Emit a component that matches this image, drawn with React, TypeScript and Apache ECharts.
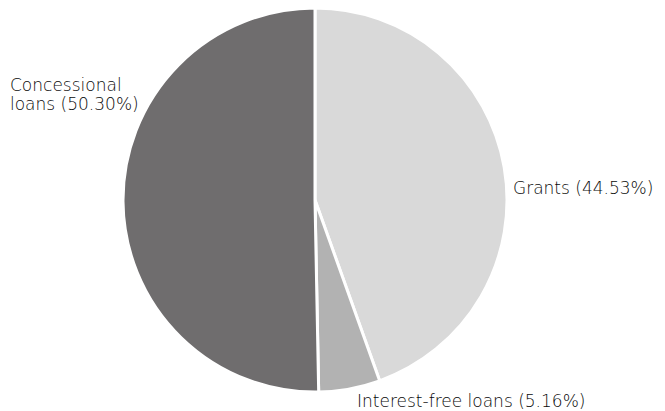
import React, { useEffect, useRef } from "react";
import * as echarts from "echarts";

const categories = ["Grants", "Interest-free loans", "Concessional loans"];
const shares = [44.53, 5.16, 50.3];
const labelTexts = ["Grants (44.53%)", "Interest-free loans (5.16%)", "Concessional\nloans (50.30%)"];
const colors = ["#d9d9d9", "#b2b2b2", "#6f6d6e"];

export default function App() {
  const ref = useRef<HTMLDivElement>(null);
  useEffect(() => {
    if (!ref.current) return;
    const chart = echarts.init(ref.current, undefined, { renderer: "svg" });
    const labelPos = [
      { x: 513, y: 188, align: "left" },
      { x: 357, y: 401, align: "left" },
      { x: 10, y: 94, align: "left" },
    ];
    chart.setOption({
      animation: false,
      backgroundColor: "#ffffff",
      series: [
        {
          type: "pie",
          center: [315, 200],
          radius: 192,
          startAngle: 90,
          clockwise: true,
          avoidLabelOverlap: false,
          itemStyle: { borderColor: "#ffffff", borderWidth: 3 },
          label: {
            show: true,
            position: "outside",
            color: "#0a0a0a",
            fontFamily: "DejaVu Sans",
            fontWeight: 200,
            fontSize: 17,
            lineHeight: 19,
            formatter: (p: any) => labelTexts[p.dataIndex],
          },
          labelLine: { show: false },
          labelLayout: (p: any) => ({
            x: labelPos[p.dataIndex].x,
            y: labelPos[p.dataIndex].y,
            align: labelPos[p.dataIndex].align,
            verticalAlign: "middle",
          }),
          emphasis: { disabled: true },
          data: categories.map((c, i) => ({
            name: c,
            value: shares[i],
            itemStyle: { color: colors[i] },
          })),
        },
      ],
    });
    return () => chart.dispose();
  }, []);
  return (
    <div
      ref={ref}
      style={{ position: "fixed", left: 0, top: 0, width: 665, height: 411 }}
    />
  );
}
